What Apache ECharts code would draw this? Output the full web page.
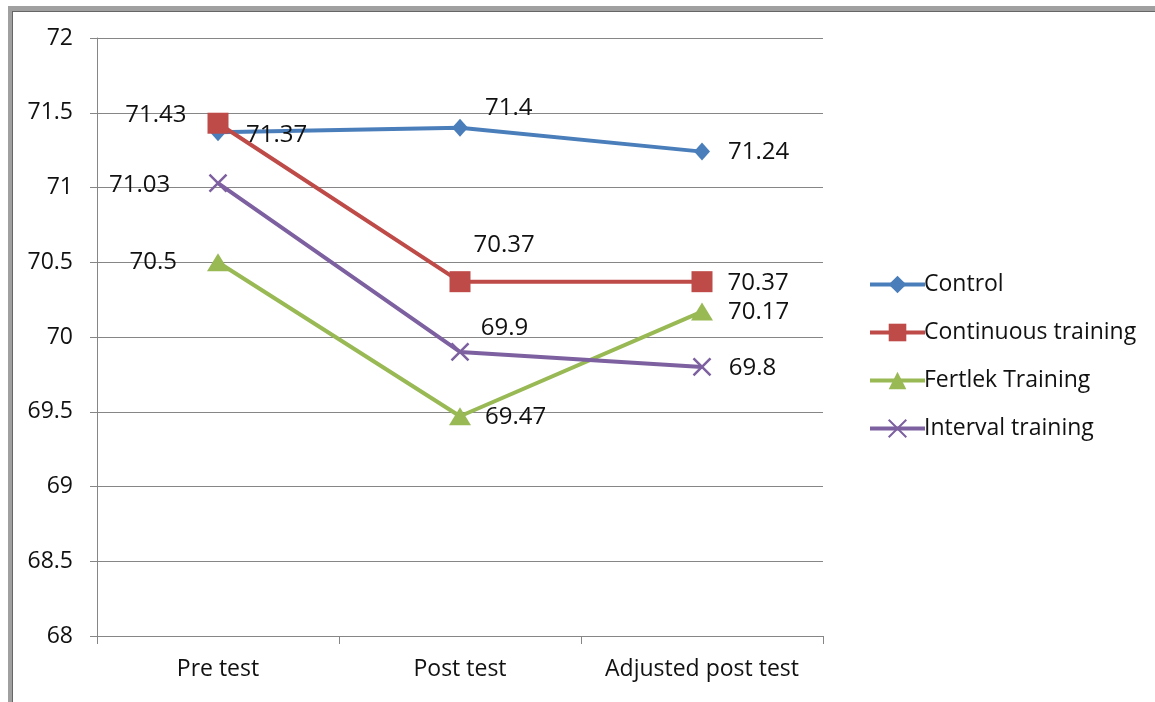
<!DOCTYPE html>
<html>
<head>
<meta charset="utf-8">
<script src="https://cdn.jsdelivr.net/npm/echarts@6/dist/echarts.min.js"></script>
<style>
html,body{margin:0;padding:0;background:#fff;}
#frame{position:absolute;left:8px;top:6px;width:1160px;height:691px;border-top:5px solid #a0a0a0;border-left:4px solid #a0a0a0;border-bottom:4px solid #a0a0a0;box-shadow: inset 1px 1px 0 #666;}
#main{position:absolute;left:0;top:0;width:1155px;height:702px;}
</style>
</head>
<body>
<div id="frame"></div>
<div id="main"></div>
<script>
var categories = ['Pre test', 'Post test', 'Adjusted post test'];
var control = [71.37, 71.4, 71.24];
var continuous = [71.43, 70.37, 70.37];
var fertlek = [70.5, 69.47, 70.17];
var interval = [71.03, 69.9, 69.8];
var seriesNames = ['Control', 'Continuous training', 'Fertlek Training', 'Interval training'];

var labelStyles = {
  'Control': [{position:'right', offset:[15,3]}, {position:'right', offset:[12,-20]}, {position:'right', offset:[13,1]}],
  'Continuous training': [{position:'left', offset:[-16,-8]}, {position:'right', offset:[-2,-37]}, {position:'right', offset:[10,1]}],
  'Fertlek Training': [{position:'left', offset:[-25,0]}, {position:'right', offset:[9,1]}, {position:'right', offset:[10,1]}],
  'Interval training': [{position:'left', offset:[-33,2]}, {position:'right', offset:[6,-24]}, {position:'right', offset:[12,1]}]
};

function buildData(name, vals){
  return vals.map(function(v,i){
    var s = labelStyles[name][i];
    return {value: v, label: {position: s.position, offset: s.offset}};
  });
}

var FONT = 'Open Sans';
var colors = ['#4a7ebb', '#be4b48', '#98b954', '#7d60a0'];
var symbols = ['diamond', 'rect', 'triangle', 'path://M0,0L10,10M10,0L0,10'];
var symbolSizes = [[16,18], 21, [22,18], 17];
var allVals = [control, continuous, fertlek, interval];

var series = seriesNames.map(function(n, k){
  return {
    name: n,
    type: 'line',
    data: buildData(n, allVals[k]),
    symbol: symbols[k],
    symbolSize: symbolSizes[k],
    showAllSymbol: true,
    lineStyle: {color: colors[k], width: 4},
    itemStyle: k === 3 ? {color: 'rgba(0,0,0,0)', borderColor: colors[k], borderWidth: 2.5} : {color: colors[k]},
    label: {show: true, color: '#111', fontFamily: FONT, fontSize: 24, distance: 5},
    emphasis: {disabled: true},
    animation: false
  };
});

var chart = echarts.init(document.getElementById('main'));
chart.setOption({
  animation: false,
  color: colors,
  grid: {left: 97, right: 332, top: 38, bottom: 66, containLabel: false},
  legend: {
    orient: 'vertical',
    left: 863,
    top: 268,
    itemGap: 25,
    itemWidth: 55,
    itemHeight: 22,
    lineStyle: {width: 4},
    textStyle: {fontFamily: FONT, fontSize: 23, color: '#111', padding: [0,0,0,-6]},
    data: seriesNames
  },
  xAxis: {
    type: 'category',
    data: categories,
    boundaryGap: true,
    axisLine: {lineStyle: {color: '#868686', width: 1}},
    axisTick: {show: true, length: 8, interval: 0, lineStyle: {color: '#868686'}},
    axisLabel: {fontFamily: FONT, fontSize: 23, color: '#111', margin: 22, interval: 0, hideOverlap: false}
  },
  yAxis: {
    type: 'value',
    min: 68,
    max: 72,
    interval: 0.5,
    axisLine: {show: true, lineStyle: {color: '#868686', width: 1}},
    axisTick: {show: true, length: 7, lineStyle: {color: '#868686'}},
    axisLabel: {fontFamily: FONT, fontSize: 23, color: '#111', margin: 24},
    splitLine: {lineStyle: {color: '#868686', width: 1}}
  },
  series: series
});
</script>
</body>
</html>
